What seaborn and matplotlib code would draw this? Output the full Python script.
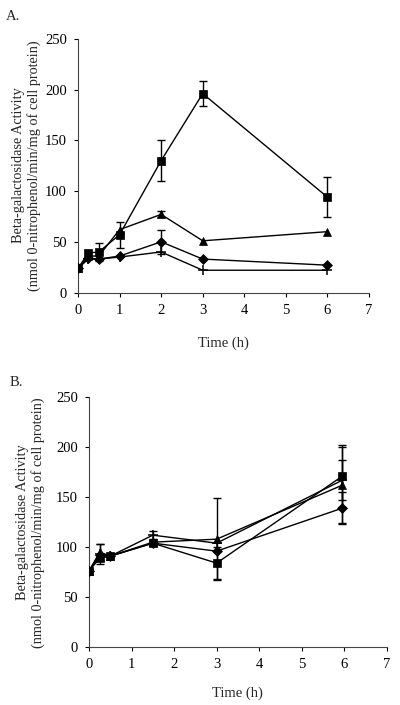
import matplotlib
matplotlib.use("Agg")
import matplotlib.pyplot as plt
import seaborn as sns
import pandas as pd

sns.set_style("ticks")
plt.rcParams['font.family'] = ['Liberation Serif', 'DejaVu Serif']

# --------------------------------------------------
# DATA
# --------------------------------------------------

# panel A
time_a = [0, 0.25, 0.5, 1, 2, 3, 6]
square_a = [24, 39, 40, 57, 130, 196, 94]
square_err_a = [0, 0, 9, 13, 20, 12, 20]
triangle_a = [24, 36, 36, 62, 77, 51, 60]
triangle_err_a = [0, 0, 0, 0, 3, 0, 0]
diamond_a = [24, 34, 33, 36, 50, 33, 27]
diamond_err_a = [0, 0, 0, 0, 12, 0, 0]
plus_a = [24, 33, 33, 35, 40, 22, 22]
plus_err_a = [0, 0, 0, 0, 0, 0, 0]

# panel B
time_b = [0, 0.25, 0.5, 1.5, 3, 5.95]
square_b = [76, 89, 91, 104, 84, 171]
square_err_b = [0, 0, 0, 0, 16, 31]
triangle_b = [76, 95, 91, 105, 108, 162]
triangle_err_b = [0, 8, 0, 0, 41, 38]
diamond_b = [76, 92, 91, 104, 96, 139]
diamond_err_b = [0, 0, 0, 0, 0, 16]
plus_b = [76, 93, 91, 112, 104, 167]
plus_err_b = [0, 10, 0, 4, 0, 20]

SERIES = ["square", "triangle", "diamond", "plus"]
MARKERS = {"square": "s", "triangle": "^", "diamond": "D", "plus": "+"}
SIZES = {"square": 6, "triangle": 6, "diamond": 4.8, "plus": 7}

Y_LABEL = "Beta-galactosidase Activity\n(nmol 0-nitrophenol/min/mg of cell protein)"


def make_frame(time, values, errors):
    rows = []
    for name in SERIES:
        for t, v, e in zip(time, values[name], errors[name]):
            rows.append({"time": t, "activity": v, "err": e, "series": name})
    return pd.DataFrame(rows)


def draw_panel(ax, df, xpad, ypad):
    for name in SERIES[::-1]:
        sub = df[df["series"] == name]
        sns.lineplot(data=sub, x="time", y="activity", ax=ax, color="black",
                     lw=1.0, marker=MARKERS[name], markersize=SIZES[name],
                     markeredgecolor="black", markerfacecolor="black",
                     markeredgewidth=1.1 if name == "plus" else 0.5,
                     legend=False, zorder=3)
        e = sub[sub["err"] > 0]
        ax.errorbar(e["time"], e["activity"], yerr=e["err"], fmt="none",
                    ecolor="black", elinewidth=1.0, capsize=2.8, capthick=1.0,
                    zorder=2)
    ax.set_xlim(0, 7)
    ax.set_ylim(0, 250)
    ax.set_xticks(range(0, 8))
    ax.set_yticks(range(0, 251, 50))
    ax.tick_params(axis="both", labelsize=10.5, length=3, width=0.8,
                   direction="out", colors="black", pad=5)
    ax.set_xlabel("Time (h)", fontsize=10.5, labelpad=xpad)
    ax.set_ylabel(Y_LABEL, fontsize=10.3, labelpad=ypad, linespacing=1.15)
    for s in ["top", "right"]:
        ax.spines[s].set_visible(False)
    for s in ["left", "bottom"]:
        ax.spines[s].set_linewidth(0.8)
        ax.spines[s].set_color("#444444")


fig = plt.figure(figsize=(4.0, 7.05), dpi=100)
ax_a = fig.add_axes([0.195, 0.585, 0.7275, 0.36])
ax_b = fig.add_axes([0.2225, 0.0823, 0.7445, 0.354])

df_a = make_frame(time_a,
                  {"square": square_a, "triangle": triangle_a, "diamond": diamond_a, "plus": plus_a},
                  {"square": square_err_a, "triangle": triangle_err_a, "diamond": diamond_err_a, "plus": plus_err_a})
df_b = make_frame(time_b,
                  {"square": square_b, "triangle": triangle_b, "diamond": diamond_b, "plus": plus_b},
                  {"square": square_err_b, "triangle": triangle_err_b, "diamond": diamond_err_b, "plus": plus_err_b})

draw_panel(ax_a, df_a, 14, 3)
draw_panel(ax_b, df_b, 11, 8)

fig.text(6 / 400, 1 - 17 / 705, "A.", fontsize=10.5, ha="left", va="center")
fig.text(10 / 400, 1 - 383 / 705, "B.", fontsize=10.5, ha="left", va="center")

fig.savefig("out.png", dpi=100)
